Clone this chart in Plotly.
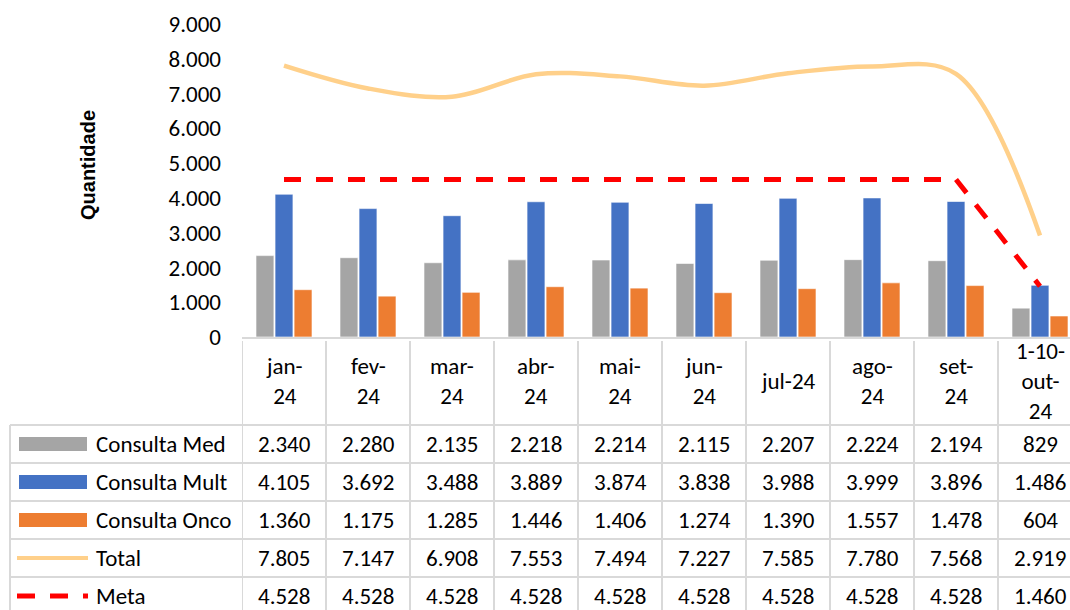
import plotly.graph_objects as go

# ---------------- data ----------------
categories = ["jan-24", "fev-24", "mar-24", "abr-24", "mai-24", "jun-24",
              "jul-24", "ago-24", "set-24", "1-10-out-24"]
header_labels = ["jan-<br>24", "fev-<br>24", "mar-<br>24", "abr-<br>24", "mai-<br>24",
                 "jun-<br>24", "jul-24", "ago-<br>24", "set-<br>24", "1-10-<br>out-<br>24"]
consulta_med = [2340, 2280, 2135, 2218, 2214, 2115, 2207, 2224, 2194, 829]
consulta_mult = [4105, 3692, 3488, 3889, 3874, 3838, 3988, 3999, 3896, 1486]
consulta_onco = [1360, 1175, 1285, 1446, 1406, 1274, 1390, 1557, 1478, 604]
total = [7805, 7147, 6908, 7553, 7494, 7227, 7585, 7780, 7568, 2919]
meta = [4528, 4528, 4528, 4528, 4528, 4528, 4528, 4528, 4528, 1460]

series_names = ["Consulta Med", "Consulta Mult", "Consulta Onco", "Total", "Meta"]
series_values = [consulta_med, consulta_mult, consulta_onco, total, meta]

# ---------------- styles ----------------
C_MED = "#A5A5A5"
C_MULT = "#4472C4"
C_ONCO = "#ED7D31"
C_TOTAL = "#FFD08A"
C_META = "#FF0000"
GRID = "#D9D9D9"
FONT = "Carlito, Lato, sans-serif"
FS = 23

W, H = 1070, 610
PLOT_L, PLOT_T, PLOT_B = 242, 24, 337
L, R, T = PLOT_L, 0, PLOT_T
B = H - PLOT_B
PW = W - L - R
PH = H - T - B


def pyp(p):
    return (PLOT_B - p) / PH


def pxp(p):
    return (p - PLOT_L) / PW


fig = go.Figure()
for name, vals, col in [("Consulta Med", consulta_med, C_MED),
                        ("Consulta Mult", consulta_mult, C_MULT),
                        ("Consulta Onco", consulta_onco, C_ONCO)]:
    fig.add_trace(go.Bar(x=categories, y=vals, name=name, marker_color=col,
                         marker_line=dict(color="rgba(255,255,255,0.6)", width=1)))

fig.add_trace(go.Scatter(x=categories, y=total, name="Total", mode="lines",
                         line=dict(color=C_TOTAL, width=4.5, shape="spline", smoothing=1.0)))
fig.add_trace(go.Scatter(x=categories, y=meta, name="Meta", mode="lines",
                         line=dict(color=C_META, width=5, dash="17px,15px")))

shapes = []
annotations = []

row_lines = [425, 463, 501, 539, 577, 615]
row_centers = [444, 482, 520, 558, 596]
left_edge = 10

n = len(categories)
for i in range(n + 1):
    shapes.append(dict(type="line", xref="x", yref="paper", x0=i - 0.5, x1=i - 0.5,
                       y0=pyp(PLOT_B + 4), y1=pyp(630),
                       line=dict(color=GRID, width=2), layer="below"))
shapes.append(dict(type="line", xref="paper", yref="paper", x0=pxp(left_edge), x1=pxp(left_edge),
                   y0=pyp(row_lines[0]), y1=pyp(630), line=dict(color=GRID, width=2)))
for yl in row_lines:
    shapes.append(dict(type="line", xref="paper", yref="paper", x0=pxp(left_edge), x1=1.02,
                       y0=pyp(yl), y1=pyp(yl), line=dict(color=GRID, width=2)))

for i, lab in enumerate(header_labels):
    annotations.append(dict(x=i, y=pyp(381), xref="x", yref="paper", text=lab,
                            showarrow=False, xanchor="center", yanchor="middle",
                            font=dict(family=FONT, size=FS, color="#000000")))

for r, (name, col) in enumerate(zip(series_names, [C_MED, C_MULT, C_ONCO, C_TOTAL, C_META])):
    yc = row_centers[r]
    if r < 3:
        shapes.append(dict(type="rect", xref="paper", yref="paper",
                           x0=pxp(19), x1=pxp(87), y0=pyp(yc - 7), y1=pyp(yc + 7),
                           fillcolor=col, line=dict(width=0)))
    elif r == 3:
        shapes.append(dict(type="line", xref="paper", yref="paper",
                           x0=pxp(17), x1=pxp(88), y0=pyp(yc), y1=pyp(yc),
                           line=dict(color=col, width=4)))
    else:
        for a, b in [(17, 35), (50, 68), (83, 88)]:
            shapes.append(dict(type="line", xref="paper", yref="paper",
                               x0=pxp(a), x1=pxp(b), y0=pyp(yc), y1=pyp(yc),
                               line=dict(color=col, width=5)))
    annotations.append(dict(x=pxp(94), y=pyp(yc), xref="paper", yref="paper", text=name,
                            showarrow=False, xanchor="left", yanchor="middle",
                            font=dict(family=FONT, size=FS, color="#000000")))


def fmt(v):
    return f"{v:,}".replace(",", ".")


for r, vals in enumerate(series_values):
    for i, v in enumerate(vals):
        annotations.append(dict(x=i, y=pyp(row_centers[r]), xref="x", yref="paper",
                                text=fmt(v), showarrow=False, xanchor="center", yanchor="middle",
                                font=dict(family=FONT, size=FS, color="#000000")))

annotations.append(dict(x=pxp(88), y=pyp(165), xref="paper", yref="paper", text="<b>Quantidade</b>",
                        textangle=-90, showarrow=False, xanchor="center", yanchor="middle",
                        font=dict(family="Liberation Sans, Arial, sans-serif", size=20, color="#000000")))

fig.update_layout(
    width=W, height=H, autosize=False,
    margin=dict(l=L, r=R, t=T, b=B, autoexpand=False),
    paper_bgcolor="white", plot_bgcolor="white",
    barmode="group", bargap=0.32, bargroupgap=0.06,
    showlegend=False,
    separators=",.",
    shapes=shapes, annotations=annotations,
    font=dict(family=FONT, size=FS, color="#000000"),
)
fig.update_xaxes(type="category", range=[-0.5, n - 0.5 - (1082 - 1070) / 84],
                 showticklabels=False, showline=True, linecolor=GRID, linewidth=2,
                 showgrid=False, zeroline=False, ticks="")
fig.update_yaxes(range=[0, 9000], dtick=1000, tickformat=",d", showgrid=False,
                 zeroline=False, showline=False, ticks="", ticklabelstandoff=20,
                 tickfont=dict(family=FONT, size=FS, color="#000000"))

fig.write_html(
    "out.html",
    config={"displayModeBar": False},
    post_script="document.body.style.margin='0';document.body.style.overflow='hidden';",
)
